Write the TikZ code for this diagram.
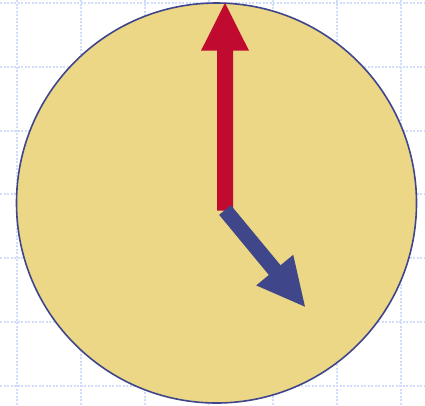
\documentclass[tikz,border=0pt]{standalone}
\definecolor{gridc}{RGB}{208,220,250}
\definecolor{facec}{RGB}{235,215,133}
\definecolor{rimc}{RGB}{64,70,140}
\definecolor{redc}{RGB}{192,10,48}
\definecolor{bluec}{RGB}{64,70,138}
\tikzset{
  gridline/.style={draw=gridc, line width=1.2pt, dash pattern=on 2pt off 1.5pt},
  face/.style={fill=facec, draw=rimc, line width=1.6pt},
  handred/.style={fill=redc, draw=none},
  handblue/.style={fill=bluec, draw=none}
}
\begin{document}
\begin{tikzpicture}[x=1pt,y=-1pt]
\useasboundingbox (0,0) rectangle (425,405);
% grid
\foreach \gx in {17,81,145,209,273,337,401} {
  \draw[gridline] (\gx,0) -- (\gx,405);
}
\foreach \gy in {3,67,131,194,258,322,386} {
  \draw[gridline] (0,\gy) -- (425,\gy);
}
% clock face
\coordinate (c) at (216.5,203);
\draw[face] (c) circle[radius=200];
% minute hand (red)
\fill[handred] (217,210.7) -- (217,50.7) -- (201,50.7) -- (225,3) -- (249,50.7) -- (233,50.7) -- (233,210.7) -- cycle;
% hour hand (blue)
\begin{scope}[shift={(225,210)}, rotate=-50.4]
  \fill[handblue] (0,-7.6) -- (78,-7.6) -- (78,-24) -- (125.5,0) -- (78,24) -- (78,7.6) -- (0,7.6) -- cycle;
\end{scope}
\end{tikzpicture}
\end{document}
